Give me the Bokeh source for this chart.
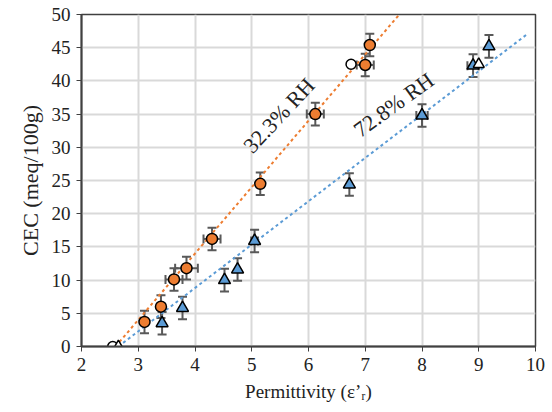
from bokeh.plotting import figure
from bokeh.models import ColumnDataSource, Whisker, Label, TeeHead, FixedTicker
from bokeh.embed import file_html
from bokeh.resources import INLINE

# 32.3% RH (orange circles)
lo_x = [3.11, 3.40, 3.63, 3.85, 4.30, 5.15, 6.12, 7.00, 7.08]
lo_y = [3.7, 6.0, 10.1, 11.8, 16.2, 24.5, 35.0, 42.4, 45.4]
lo_yerr = [1.7, 1.7, 1.7, 1.7, 1.7, 1.7, 1.7, 1.7, 1.7]
lo_xerr = [0.0, 0.0, 0.15, 0.2, 0.15, 0.0, 0.15, 0.15, 0.0]
lo_open_x = [2.55, 6.75]
lo_open_y = [0.0, 42.5]

# 72.8% RH (blue triangles)
hi_x = [3.42, 3.78, 4.52, 4.75, 5.05, 6.72, 8.00, 8.90, 9.18]
hi_y = [3.5, 5.8, 10.0, 11.6, 15.9, 24.4, 34.8, 42.3, 45.2]
hi_yerr = [1.7, 1.7, 1.7, 1.7, 1.7, 1.7, 1.7, 1.7, 1.7]
hi_xerr = [0.0, 0.0, 0.0, 0.0, 0.06, 0.0, 0.1, 0.1, 0.0]
hi_open_x = [2.65, 9.0]
hi_open_y = [0.0, 42.5]

# trend lines (x start, x end, slope)
lo_fit_x = [2.6, 7.59]
lo_fit_slope = 10.0
hi_fit_x = [2.65, 9.86]
hi_fit_slope = 6.53

x_ticks = [2, 3, 4, 5, 6, 7, 8, 9, 10]
y_ticks = [0, 5, 10, 15, 20, 25, 30, 35, 40, 45, 50]

ORANGE = "#ED7D31"
BLUE = "#5B9BD5"
ERR = "#595959"
FONT = "Liberation Serif"

p = figure(frame_width=454, frame_height=332, x_range=(2, 10), y_range=(0, 50),
           output_backend="svg", toolbar_location=None,
           min_border_left=81, min_border_right=17, min_border_top=14, min_border_bottom=66)
p.background_fill_color = "white"
p.border_fill_color = "white"
p.outline_line_color = "#404040"
p.outline_line_width = 1.5

for ax in (p.xaxis[0], p.yaxis[0]):
    ax.axis_line_color = "#404040"
    ax.axis_line_width = 2
    ax.major_tick_line_color = "#404040"
    ax.major_tick_out = 5
    ax.major_tick_in = 0
    ax.minor_tick_line_color = None
    ax.major_label_text_font = FONT
    ax.major_label_text_font_size = "19px"
    ax.major_label_text_color = "#222222"
    ax.axis_label_text_font = FONT
    ax.axis_label_text_font_style = "normal"
    ax.axis_label_text_color = "#222222"

p.xaxis.ticker = FixedTicker(ticks=x_ticks)
p.yaxis.ticker = FixedTicker(ticks=y_ticks)
p.xaxis.axis_label = "Permittivity (ε’ᵣ)"
p.yaxis.axis_label = "CEC (meq/100g)"
p.xaxis.axis_label_text_font_size = "19px"
p.yaxis.axis_label_text_font_size = "22px"
p.xaxis.major_label_standoff = 6
p.yaxis.major_label_standoff = 6
p.xaxis.axis_label_standoff = 7
p.yaxis.axis_label_standoff = 6

p.xgrid.grid_line_color = "#d9d9d9"
p.ygrid.grid_line_color = "#d9d9d9"
p.xgrid.grid_line_width = 2
p.ygrid.grid_line_width = 2

# trend lines
p.line(lo_fit_x, [lo_fit_slope * (x - lo_fit_x[0]) for x in lo_fit_x],
       line_color=ORANGE, line_width=2, line_dash="3 3")
p.line(hi_fit_x, [hi_fit_slope * (x - hi_fit_x[0]) for x in hi_fit_x],
       line_color=BLUE, line_width=2, line_dash="3 3")

def add_errors(xs, ys, xe, ye):
    src_y = ColumnDataSource(dict(x=xs, lo=[y - e for y, e in zip(ys, ye)], hi=[y + e for y, e in zip(ys, ye)]))
    p.add_layout(Whisker(source=src_y, base="x", lower="lo", upper="hi", dimension="height",
                         line_color=ERR, line_width=2,
                         upper_head=TeeHead(size=9, line_color=ERR, line_width=2),
                         lower_head=TeeHead(size=9, line_color=ERR, line_width=2)))
    idx = [i for i, e in enumerate(xe) if e > 0]
    src_x = ColumnDataSource(dict(y=[ys[i] for i in idx], lo=[xs[i] - xe[i] for i in idx], hi=[xs[i] + xe[i] for i in idx]))
    p.add_layout(Whisker(source=src_x, base="y", lower="lo", upper="hi", dimension="width",
                         line_color=ERR, line_width=2,
                         upper_head=TeeHead(size=9, line_color=ERR, line_width=2),
                         lower_head=TeeHead(size=9, line_color=ERR, line_width=2)))

add_errors(lo_x, lo_y, lo_xerr, lo_yerr)
add_errors(hi_x, hi_y, hi_xerr, hi_yerr)

p.scatter(lo_x, lo_y, marker="circle", size=11, fill_color=ORANGE, line_color="black", line_width=1.5)
p.scatter(hi_x, hi_y, marker="triangle", size=12, fill_color=BLUE, line_color="black", line_width=1.5)
p.scatter(lo_open_x, lo_open_y, marker="circle", size=10, fill_color="white", line_color="black", line_width=1.5)
p.scatter(hi_open_x, hi_open_y, marker="triangle", size=11, fill_color="white", line_color="black", line_width=1.5)

p.add_layout(Label(x=5.48, y=34.8, text="32.3% RH", angle=47, angle_units="deg",
                   text_font=FONT, text_font_size="22px", text_color="#222222",
                   text_align="center", text_baseline="middle"))
p.add_layout(Label(x=7.5, y=36.4, text="72.8% RH", angle=36, angle_units="deg",
                   text_font=FONT, text_font_size="22px", text_color="#222222",
                   text_align="center", text_baseline="middle"))

open("out.html", "w").write(file_html(p, INLINE))
